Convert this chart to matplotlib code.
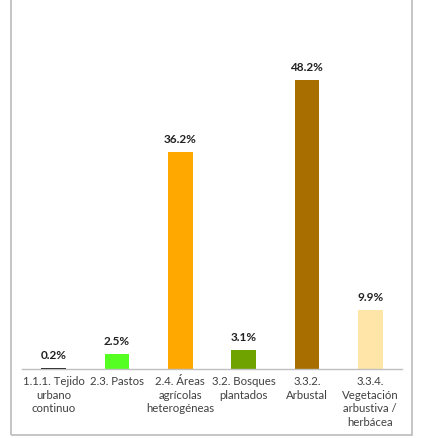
import matplotlib
matplotlib.use("Agg")
import matplotlib.pyplot as plt
from matplotlib.patches import Rectangle

categories = ["1.1.1. Tejido\nurbano\ncontinuo", "2.3. Pastos", "2.4. Áreas\nagrícolas\nheterogéneas",
              "3.2. Bosques\nplantados", "3.3.2.\nArbustal", "3.3.4.\nVegetación\narbustiva /\nherbácea"]
values = [0.2, 2.5, 36.2, 3.1, 48.2, 9.9]
labels = ["0.2%", "2.5%", "36.2%", "3.1%", "48.2%", "9.9%"]
colors = ["#1a1a1a", "#55FF22", "#FFA800", "#6FA300", "#A86F00", "#FFE6A8"]

plt.rcParams["font.family"] = ["Lato", "DejaVu Sans"]

fig = plt.figure(figsize=(4.23, 4.38), dpi=100)
ax = fig.add_axes([0.052, 0.1575, 0.898, 0.80])

x = range(len(values))
ax.bar(x, values, color=colors, width=0.39)
for i, v in enumerate(values):
    ax.text(i, v + 1.2, labels[i], ha="center", va="bottom", fontsize=8.5, fontweight="bold", color="#222222")

ax.set_xlim(-0.5, 5.5)
ax.set_ylim(0, 58.5)
ax.set_xticks(list(x))
ax.set_xticklabels(categories, fontsize=8.2, color="#404040", linespacing=1.3)
ax.tick_params(axis="x", length=0, pad=5)
ax.set_yticks([])
for s in ["left", "right", "top"]:
    ax.spines[s].set_visible(False)
ax.spines["bottom"].set_color("#BFBFBF")
ax.spines["bottom"].set_linewidth(1)

# grey frame around the chart (top edge cut off)
fig.add_artist(Rectangle((10.5 / 423, 3 / 438), 401 / 423, 1.1, transform=fig.transFigure,
                         fill=False, edgecolor="#BBBBBB", linewidth=1.2, clip_on=False))

fig.savefig("out.png", dpi=100)
